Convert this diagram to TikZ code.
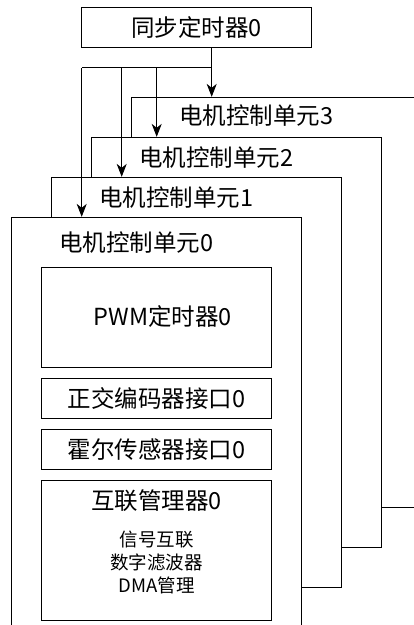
\documentclass[tikz,border=0pt]{standalone}
\usepackage{fontspec}
\setmainfont{Noto Sans CJK SC}
\usetikzlibrary{arrows.meta,positioning}
\tikzset{
  unit/.style = {rectangle, draw, line width=0.9pt, fill=white,
    minimum width=290pt, minimum height=410pt, inner sep=0pt},
  subbox/.style = {rectangle, draw, line width=0.9pt, fill=white,
    minimum width=230pt, minimum height=40pt, inner sep=0pt, font=\fontsize{23.5}{27}\selectfont},
  title/.style = {font=\fontsize{23.5}{27}\selectfont, inner sep=0pt},
  small/.style = {font=\fontsize{18.5}{23}\selectfont, align=center, inner sep=0pt},
  arrow/.style = {line width=0.9pt, -{Stealth[length=13pt, width=10pt, inset=4pt]}},
  bus/.style = {line width=0.9pt}
}

\begin{document}
\begin{tikzpicture}[x=1pt, y=-1pt, node distance=10pt]
\clip (0,0) rectangle (414,625);

% sync timer
\node[subbox] (sync) at (196.7,27.3) {同步定时器0};

% motor control units, back to front
\foreach \i/\dy in {3/19,2/21,1/21,0/26} {
  \node[unit] (unit\i) at (156.7+40*\i, 422.3-40*\i) {};
  \node[title] (title\i) at ([xshift=125pt, yshift=-\dy pt]unit\i.north west) {电机控制单元\i};
}

% blocks inside unit 0
\node[subbox, minimum height=100pt] (pwm) at (156.7,317.3) {\hspace*{12pt}\raisebox{4pt}{PWM定时器0}};
\node[subbox, below=of pwm] (qei) {正交编码器接口0};
\node[subbox, below=of qei] (hall) {霍尔传感器接口0};
\node[subbox, minimum height=140pt, below=of hall] (xbar) {};
\node[title] (xbartitle) at ([yshift=-21pt]xbar.north) {互联管理器0};
\node[small] (xbarlist) at ([yshift=-83pt]xbar.north) {信号互联\\数字滤波器\\DMA管理};

% bus from sync timer
\coordinate (b0) at (81.7,67.7);
\coordinate (b1) at (121.7,67.7);
\coordinate (b2) at (156.7,67.7);
\coordinate (b3) at (211.7,67.7);
\draw[bus] (b3 |- sync.south) -- (b3) -- (b0);
\foreach \i in {0,...,3}
  \draw[arrow] (b\i) -- (b\i |- unit\i.north);

\end{tikzpicture}
\end{document}
